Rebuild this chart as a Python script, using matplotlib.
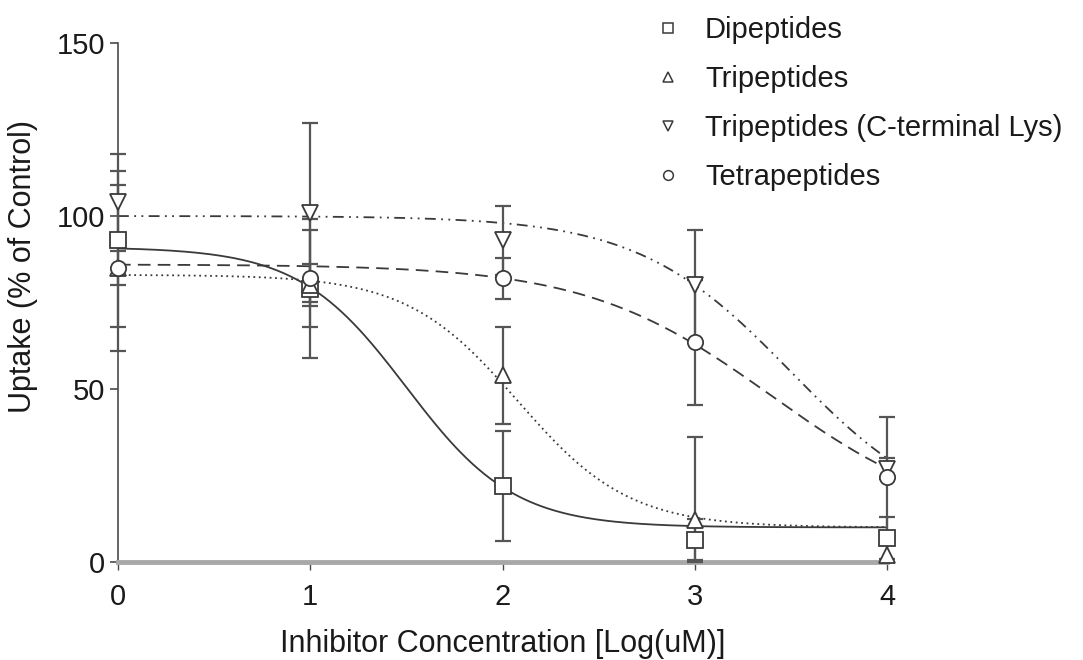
import numpy as np
import matplotlib
matplotlib.use("Agg")
import matplotlib.pyplot as plt
from matplotlib.lines import Line2D

plt.rcParams['font.family'] = ['Liberation Sans', 'DejaVu Sans']

# ---- data ----
log_conc = [0, 1, 2, 3, 4]
series_names = ["Dipeptides", "Tripeptides", "Tripeptides (C-terminal Lys)", "Tetrapeptides"]

dipeptides = [93, 79, 22, 6.5, 7]
dipeptides_err = [25, 20, 16, 6, 6]
tripeptides = [85, 80, 54, 12, 2]
tripeptides_err = [5, 6, 14, 24, 3]
tri_lys = [104, 101, 93, 80, 27]
tri_lys_err = [9, 26, 10, 16, 3]
tetrapeptides = [85, 82, 82, 63.5, 24.5]
tetrapeptides_err = [24, 14, 6, 18, 17.5]

# sigmoidal fit parameters: top, bottom, logIC50, hill slope
fit_dipeptides = (91, 10, 1.5, 1.55)
fit_tripeptides = (83, 10, 2.08, 1.5)
fit_tri_lys = (100, 10, 3.5, 1.09)
fit_tetrapeptides = (86, 10, 3.4, 0.9)

values = [dipeptides, tripeptides, tri_lys, tetrapeptides]
errors = [dipeptides_err, tripeptides_err, tri_lys_err, tetrapeptides_err]
fits = [fit_dipeptides, fit_tripeptides, fit_tri_lys, fit_tetrapeptides]
markers = ['s', '^', 'v', 'o']
linestyles = ['-', (0, (1, 2)), (0, (6, 3, 1, 3, 1, 3)), (0, (7, 4))]

def sigmoid(x, top, bottom, c, h):
    return bottom + (top - bottom) / (1 + 10 ** ((x - c) * h))

fig = plt.figure(figsize=(10.83, 6.6), dpi=100)
ax = fig.add_axes([118 / 1083, 1 - 562 / 660, (887 - 118) / 1083, (562 - 43) / 660])

dark = '#3a3a3a'
xs = np.linspace(0, 4, 400)
for vals, errs, fit, m, ls in zip(values, errors, fits, markers, linestyles):
    ax.plot(xs, sigmoid(xs, *fit), color=dark, lw=1.3, linestyle=ls, clip_on=False, zorder=2)
    lower = [min(e, v) for e, v in zip(errs, vals)]
    ax.errorbar(log_conc, vals, yerr=[lower, errs], fmt='none', ecolor='#555555',
                elinewidth=1.6, capsize=5.5, capthick=1.6, clip_on=False, zorder=3)
    ax.plot(log_conc, vals, linestyle='none', marker=m, markersize=11,
            markerfacecolor='white', markeredgecolor=dark, markeredgewidth=1.3,
            clip_on=False, zorder=4)

ax.set_xlim(0, 4)
ax.set_ylim(0, 150)
ax.set_xticks([0, 1, 2, 3, 4])
ax.set_yticks([0, 50, 100, 150])
for s in ['top', 'right']:
    ax.spines[s].set_visible(False)
ax.spines['left'].set_color('#4a4a4a')
ax.spines['left'].set_linewidth(1.2)
ax.spines['bottom'].set_color('#a8a8a8')
ax.spines['bottom'].set_linewidth(3.5)
ax.tick_params(axis='y', colors='#4a4a4a', width=1.2, length=6, pad=3,
               labelsize=21, labelcolor='#1a1a1a')
ax.tick_params(axis='x', colors='#4a4a4a', width=1.0, length=6, pad=9,
               labelsize=21, labelcolor='#1a1a1a')
ax.set_xlabel("Inhibitor Concentration [Log(uM)]", fontsize=22, color='#1a1a1a', labelpad=13)
ax.set_ylabel("Uptake (% of Control)", fontsize=22, color='#1a1a1a')
ax.yaxis.set_label_coords(-0.104, 0.57)

handles = [Line2D([], [], linestyle='none', marker=m, markersize=7,
                  markerfacecolor='white', markeredgecolor=dark, markeredgewidth=1.1)
           for m in markers]
leg = fig.legend(handles, series_names, loc='upper left',
                 bbox_to_anchor=(648 / 1083, 1.0 - 10 / 660),
                 frameon=False, fontsize=21, handletextpad=0.75, labelspacing=0.72,
                 handlelength=1.0, borderaxespad=0, borderpad=0.2)
for t in leg.get_texts():
    t.set_color('#1a1a1a')

fig.savefig("out.png", dpi=100)
